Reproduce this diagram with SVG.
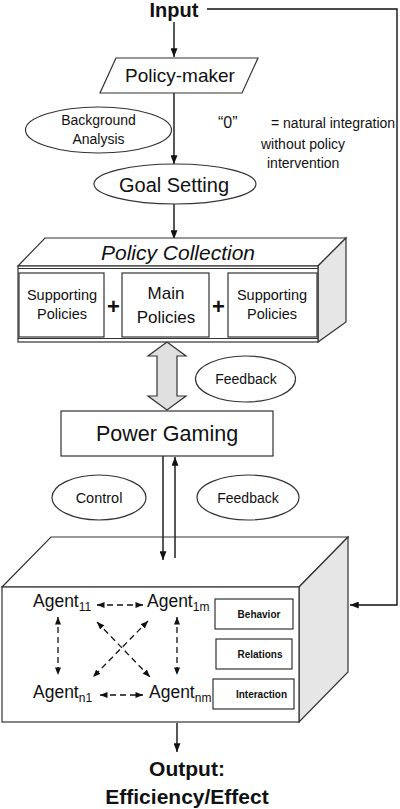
<svg xmlns="http://www.w3.org/2000/svg" width="400" height="809" viewBox="0 0 400 809">
<defs>
<style>
.t{font-family:"Liberation Sans",Arial,sans-serif;fill:#111}
.b{font-weight:bold}
.shape{fill:#fff;stroke:#333;stroke-width:1.2}
.side{fill:#e6e6e6;stroke:#333;stroke-width:1.2}
.ln{fill:none;stroke:#111;stroke-width:1.4}
.dl{fill:none;stroke:#111;stroke-width:1.3;stroke-dasharray:6 4}
</style>
<marker id="ah" viewBox="0 0 10 8" refX="10" refY="4" markerWidth="9" markerHeight="7" markerUnits="userSpaceOnUse" orient="auto-start-reverse">
<path d="M0,0 L10,4 L0,8 z" fill="#111"/>
</marker>
<marker id="ahs" viewBox="0 0 10 8" refX="10" refY="4" markerWidth="8" markerHeight="6" markerUnits="userSpaceOnUse" orient="auto-start-reverse">
<path d="M0,0 L10,4 L0,8 z" fill="#111"/>
</marker>
</defs>

<g id="connectors">
<line class="ln" x1="174" y1="22" x2="174" y2="57" marker-end="url(#ah)"/>
<line class="ln" x1="174" y1="93" x2="174" y2="164" marker-end="url(#ah)"/>
<line class="ln" x1="174" y1="204" x2="174" y2="239" marker-end="url(#ah)"/>
<polyline class="ln" points="207,9 397,9 397,605 350,605" marker-end="url(#ah)"/>
<line class="ln" x1="163" y1="456" x2="163" y2="560" marker-end="url(#ah)"/>
<line class="ln" x1="175" y1="558" x2="175" y2="457" marker-end="url(#ah)"/>
<line class="ln" x1="177" y1="723" x2="177" y2="752" marker-end="url(#ah)"/>
<polygon id="double-arrow" points="167,342 186,356 177,356 177,396 186,396 167,410 148,396 157,396 157,356 148,356" fill="#e0e0e0" stroke="#333" stroke-width="1.2"/>
</g>

<g id="input"><text class="t b" x="174" y="17" font-size="20" text-anchor="middle">Input</text></g>

<g id="policy-maker">
<polygon class="shape" points="116,58 258,58 242,93 100,93"/>
<text class="t" x="180" y="82" font-size="19" text-anchor="middle">Policy-maker</text>
</g>

<g id="background-analysis">
<ellipse class="shape" cx="98.5" cy="130" rx="73" ry="23"/>
<text class="t" x="98.5" y="125" font-size="14" text-anchor="middle">Background</text>
<text class="t" x="98.5" y="144" font-size="14" text-anchor="middle">Analysis</text>
</g>

<g id="note">
<text class="t" x="218" y="128" font-size="16">“0”</text>
<text class="t" x="271" y="128" font-size="14">= natural integration</text>
<text class="t" x="261" y="149" font-size="14">without policy</text>
<text class="t" x="267" y="168" font-size="14">intervention</text>
</g>

<g id="goal-setting">
<ellipse class="shape" cx="175" cy="184" rx="81" ry="20"/>
<text class="t" x="174" y="192" font-size="20" text-anchor="middle">Goal Setting</text>
</g>

<g id="policy-collection">
<polygon class="shape" points="18,266 45,238 346,238 318,266"/>
<polygon class="side" points="318,266 346,238 346,322 318,342"/>
<rect class="shape" x="18" y="266" width="300" height="76"/>
<line x1="18" y1="268.5" x2="318" y2="268.5" stroke="#333" stroke-width="1"/>
<line x1="18" y1="338.5" x2="318" y2="338.5" stroke="#333" stroke-width="1"/>
<text class="t" x="178" y="260" font-size="21" font-style="italic" text-anchor="middle">Policy Collection</text>
<rect class="shape" x="19" y="273" width="85" height="64"/>
<rect class="shape" x="122" y="273" width="87" height="64"/>
<rect class="shape" x="228" y="273" width="89" height="64"/>
<text class="t" x="62" y="300" font-size="14.5" text-anchor="middle">Supporting</text>
<text class="t" x="62" y="319" font-size="14.5" text-anchor="middle">Policies</text>
<text class="t" x="166" y="299" font-size="17" text-anchor="middle">Main</text>
<text class="t" x="166" y="323" font-size="17" text-anchor="middle">Policies</text>
<text class="t" x="272" y="300" font-size="14.5" text-anchor="middle">Supporting</text>
<text class="t" x="272" y="319" font-size="14.5" text-anchor="middle">Policies</text>
<text class="t b" x="113.5" y="314" font-size="22" text-anchor="middle">+</text>
<text class="t b" x="218.5" y="314" font-size="22" text-anchor="middle">+</text>
</g>

<g id="feedback-top">
<ellipse class="shape" cx="245.5" cy="379" rx="50" ry="23"/>
<text class="t" x="246" y="384" font-size="14" text-anchor="middle">Feedback</text>
</g>

<g id="power-gaming">
<rect class="shape" x="61" y="411" width="212" height="45"/>
<text class="t" x="167" y="441" font-size="21.5" text-anchor="middle">Power Gaming</text>
</g>

<g id="control">
<ellipse class="shape" cx="99" cy="497.5" rx="47" ry="22.5"/>
<text class="t" x="99" y="503" font-size="14.5" text-anchor="middle">Control</text>
</g>

<g id="feedback-bottom">
<ellipse class="shape" cx="248" cy="497.5" rx="51" ry="22.5"/>
<text class="t" x="248" y="503" font-size="14" text-anchor="middle">Feedback</text>
</g>

<g id="agents">
<polygon class="shape" points="2,587 51,537 348,537 299,587"/>
<polygon class="side" points="299,587 348,537 348,672 299,722"/>
<rect class="shape" x="2" y="587" width="297" height="135"/>
<line class="ln" x1="163" y1="537" x2="163" y2="560" marker-end="url(#ah)"/>
<line class="ln" x1="175" y1="537" x2="175" y2="558"/>
<text class="t" x="33" y="607" font-size="17.5">Agent<tspan font-size="12" dy="4">11</tspan></text>
<text class="t" x="147" y="607" font-size="17.5">Agent<tspan font-size="12" dy="4">1m</tspan></text>
<text class="t" x="33" y="698" font-size="17.5">Agent<tspan font-size="12" dy="4">n1</tspan></text>
<text class="t" x="149" y="698" font-size="17.5">Agent<tspan font-size="12" dy="4">nm</tspan></text>
<line class="dl" x1="97" y1="605" x2="143" y2="605" marker-start="url(#ahs)" marker-end="url(#ahs)"/>
<line class="dl" x1="100" y1="695" x2="143" y2="695" marker-start="url(#ahs)" marker-end="url(#ahs)"/>
<line class="dl" x1="58" y1="617" x2="58" y2="675" marker-start="url(#ahs)" marker-end="url(#ahs)"/>
<line class="dl" x1="177" y1="617" x2="177" y2="675" marker-start="url(#ahs)" marker-end="url(#ahs)"/>
<line class="dl" x1="97" y1="622" x2="150" y2="677" marker-start="url(#ahs)" marker-end="url(#ahs)"/>
<line class="dl" x1="148" y1="621" x2="93" y2="677" marker-start="url(#ahs)" marker-end="url(#ahs)"/>
<rect class="shape" x="215" y="599" width="78" height="30"/>
<rect class="shape" x="216" y="639" width="76" height="30"/>
<rect class="shape" x="213" y="679" width="81" height="30"/>
<text class="t b" x="259" y="617.5" font-size="10" text-anchor="middle">Behavior</text>
<text class="t b" x="260" y="657.5" font-size="10" text-anchor="middle">Relations</text>
<text class="t b" x="261.5" y="697.5" font-size="10" text-anchor="middle">Interaction</text>
</g>

<g id="output">
<text class="t b" x="187" y="776" font-size="21" text-anchor="middle">Output:</text>
<text class="t b" x="187" y="804" font-size="21" text-anchor="middle">Efficiency/Effect</text>
</g>
</svg>
